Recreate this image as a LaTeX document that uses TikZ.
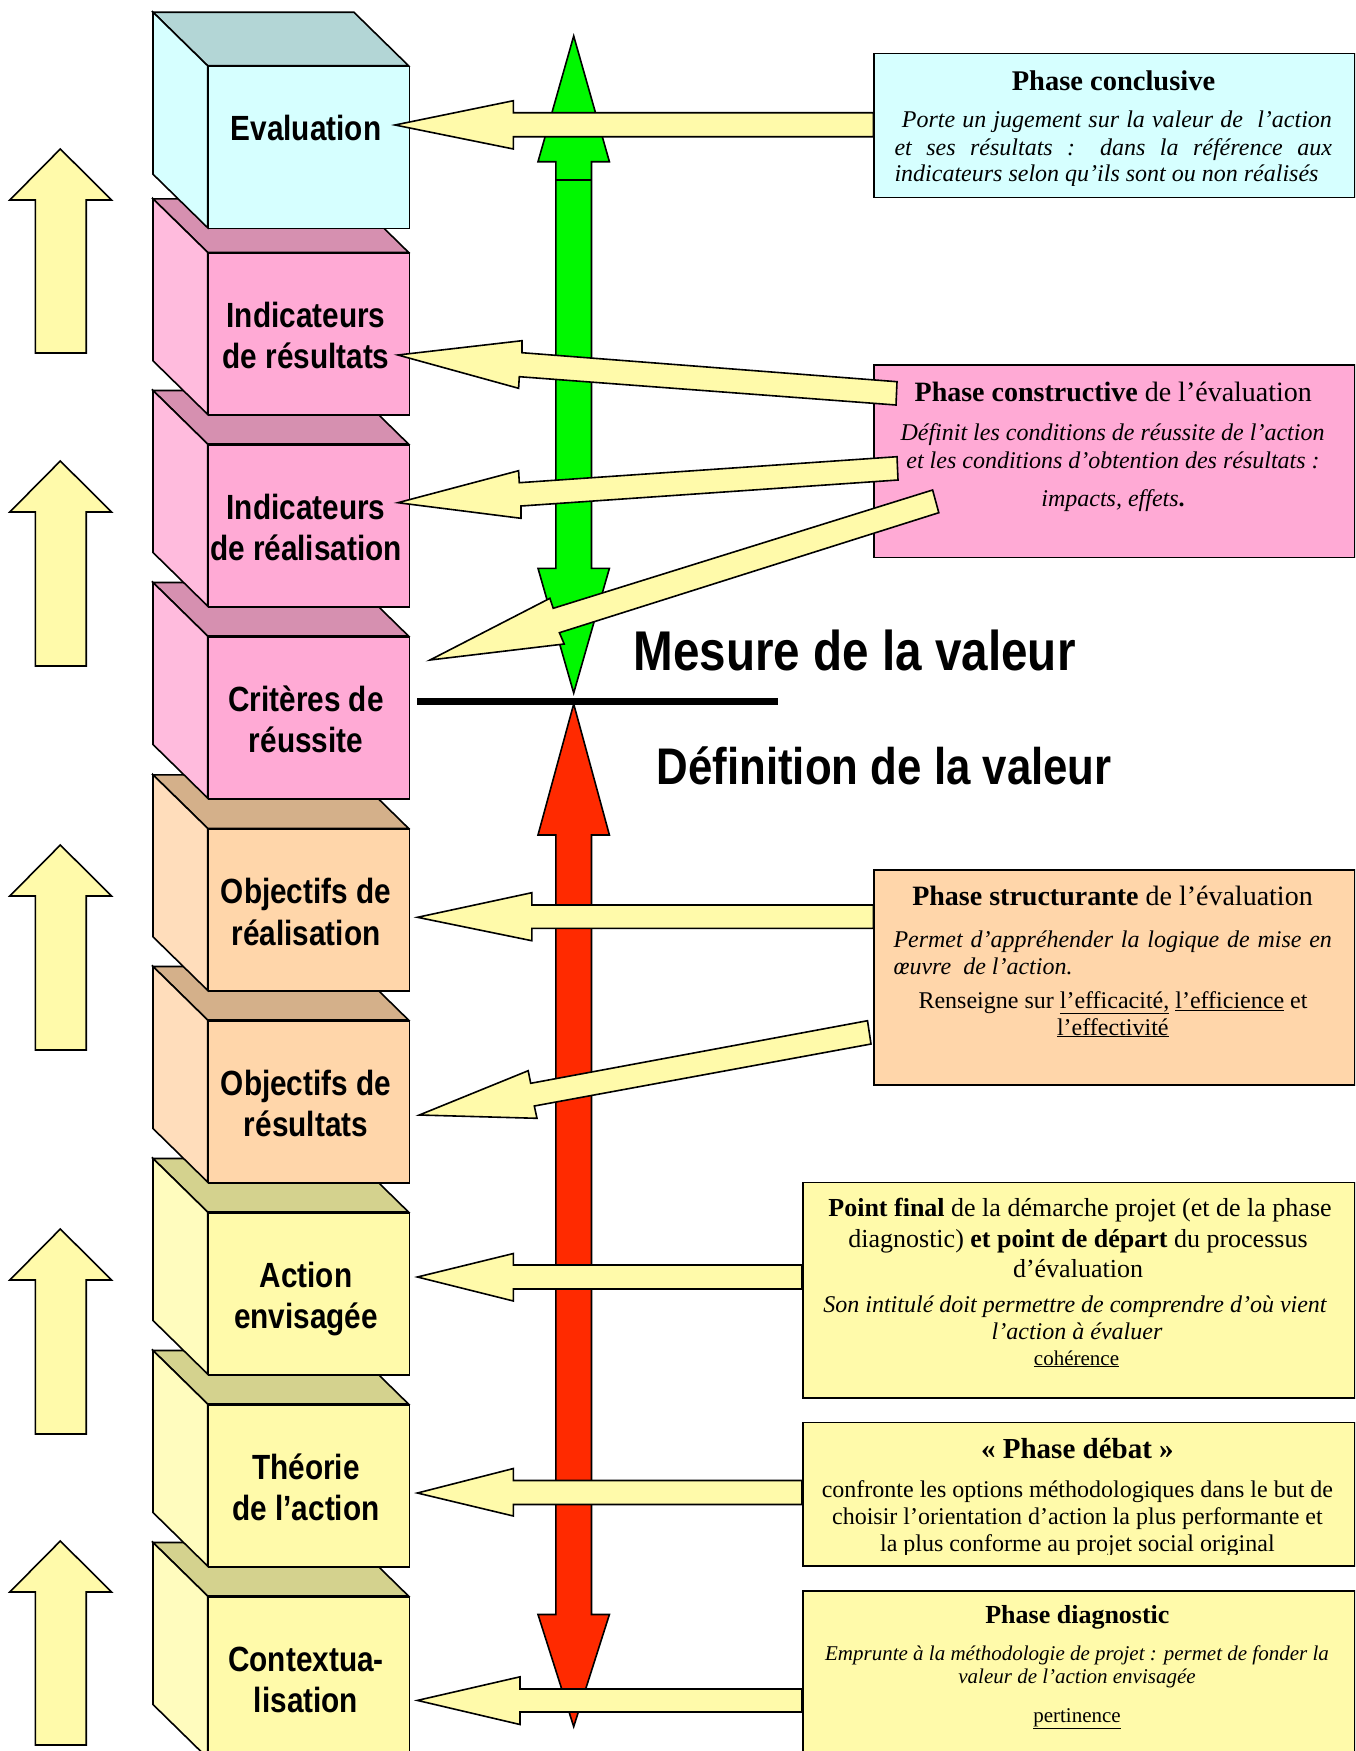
\documentclass[tikz,border=0pt]{standalone}
\usepackage{fontspec}
\setmainfont{Liberation Serif}
\newfontfamily\cubefont[FakeStretch=0.85]{Liberation Sans}
\definecolor{yel}{HTML}{FFFAAA}
\definecolor{yelside}{HTML}{FFFCBE}
\definecolor{yeltop}{HTML}{D4D28E}
\definecolor{pinkfront}{HTML}{FFAAD5}
\definecolor{pinkside}{HTML}{FFBBDD}
\definecolor{pinktop}{HTML}{D690B0}
\definecolor{peachfront}{HTML}{FFD6AA}
\definecolor{peachside}{HTML}{FFDDBB}
\definecolor{peachtop}{HTML}{D4B08A}
\definecolor{cyanfront}{HTML}{D6FFFF}
\definecolor{cyantop}{HTML}{B3D6D6}
\definecolor{greenarrow}{HTML}{00F800}
\definecolor{redarrow}{HTML}{FF2A00}
\newcommand\setfs[1]{\fontsize{#1}{#1}\selectfont}
\newcommand\mkcube[5]{%
  \path[cubeface, fill=#5] (153,#2-53.5) -- (353.9,#2-53.5) -- (408.5,#2) -- (207.6,#2) -- cycle;
  \path[cubeface, fill=#4] (153,#2-53.5) -- (207.6,#2) -- (207.6,#2+162) -- (153,#2+108.5) -- cycle;
  \node[cubeface, fill=#3, anchor=north west, minimum width=200.9pt, minimum height=162pt, inner sep=0pt] (#1) at (207.6,#2) {};
}
\newcommand\uparrowL[2]{%
  \path[yarrow] (60.3,#1) -- (111.6,#1+51) -- (86.2,#1+51) -- (86.2,#2) -- (35.3,#2) -- (35.3,#1+51) -- (9.8,#1+51) -- cycle;}
\newcommand\harrowL[8]{%
  \path[yarrow] (#1,#2) -- (#3,#4) -- (#3,#6) -- (#8,#6) -- (#8,#7) -- (#3,#7) -- (#3,#5) -- cycle;}
\begin{document}
\begin{tikzpicture}[x=1pt,y=-1pt,line join=miter,
  cubeface/.style={draw=black, line width=1.6pt},
  yarrow/.style={draw=black, fill=yel, line width=1.6pt},
  phasebox/.style={draw=black, line width=1.6pt, anchor=north west, inner sep=0pt},
  cubetxt/.style={font=\cubefont\bfseries\setfs{35}, anchor=base, inner sep=0pt},
  bigtxt/.style={font=\cubefont\bfseries, anchor=base west, inner sep=0pt},
  txt/.style={anchor=base, inner sep=0pt},
  txtw/.style={anchor=base west, inner sep=0pt}]
\useasboundingbox (0,0) rectangle (1355,1751);
\clip (0,0) rectangle (1355,1751);

% cubes, drawn from bottom to top
\mkcube{ctx}{1596}{yel}{yelside}{yeltop}
\mkcube{theo}{1404}{yel}{yelside}{yeltop}
\mkcube{act}{1212}{yel}{yelside}{yeltop}
\mkcube{ores}{1020}{peachfront}{peachside}{peachtop}
\mkcube{oreal}{828.3}{peachfront}{peachside}{peachtop}
\mkcube{crit}{636}{pinkfront}{pinkside}{pinktop}
\mkcube{ireal}{444}{pinkfront}{pinkside}{pinktop}
\mkcube{ires}{252.3}{pinkfront}{pinkside}{pinktop}
\mkcube{eval}{65.7}{cyanfront}{cyanfront}{cyantop}

\node[cubetxt] (evalt) at (306,140) {Evaluation};
\node[cubetxt] (irest1) at (306,327) {Indicateurs};
\node[cubetxt] (irest2) at (306,368.5) {de résultats};
\node[cubetxt] (irealt1) at (306,519) {Indicateurs};
\node[cubetxt] (irealt2) at (306,560.5) {de réalisation};
\node[cubetxt] (critt1) at (306,711) {Critères de};
\node[cubetxt] (critt2) at (306,752.5) {réussite};
\node[cubetxt] (orealt1) at (306,903.3) {Objectifs de};
\node[cubetxt] (orealt2) at (306,945) {réalisation};
\node[cubetxt] (orest1) at (306,1095) {Objectifs de};
\node[cubetxt] (orest2) at (306,1136.7) {résultats};
\node[cubetxt] (actt1) at (306,1287) {Action};
\node[cubetxt] (actt2) at (306,1328.5) {envisagée};
\node[cubetxt] (theot1) at (306,1479) {Théorie};
\node[cubetxt] (theot2) at (306,1520.5) {de l’action};
\node[cubetxt] (ctxt1) at (306,1671) {Contextua-};
\node[cubetxt] (ctxt2) at (306,1712.5) {lisation};

% left up arrows
\uparrowL{149}{353}
\uparrowL{461}{666}
\uparrowL{845}{1050}
\uparrowL{1229}{1434}
\uparrowL{1541}{1745}

% green and red vertical arrows
\path[draw=black, fill=greenarrow, line width=1.6pt] (573.7,36) -- (609.4,161.7) -- (591.5,161.7) -- (591.5,568.3) -- (609.4,568.3) -- (573.7,693) -- (538,568.3) -- (555.8,568.3) -- (555.8,161.7) -- (538,161.7) -- cycle;
\draw[line width=1.6pt] (555.8,180) -- (591.5,180);
\path[draw=black, fill=redarrow, line width=1.6pt] (573.7,704) -- (609.4,835) -- (591.5,835) -- (591.5,1614.5) -- (609.4,1614.5) -- (573.7,1726.6) -- (538,1614.5) -- (555.8,1614.5) -- (555.8,835) -- (538,835) -- cycle;
\coordinate (lineL) at (417,701);
\coordinate (lineR) at (778,701);
\draw[line width=7pt] (lineL) -- (lineR);

\node[bigtxt, font=\cubefont\bfseries\setfs{56}] (mesure) at (633.6,670) {Mesure de la valeur};
\node[bigtxt, font=\cubefont\bfseries\setfs{51.5}] (definition) at (656.6,784) {Définition de la valeur};

% right boxes
\node[phasebox, fill=cyanfront, minimum width=480.7pt, minimum height=144pt] (conclusive) at (873.3,52.7) {};
\node[phasebox, fill=pinkfront, minimum width=480.7pt, minimum height=192.7pt] (constructive) at (873.3,364) {};
\node[phasebox, fill=peachfront, minimum width=480.7pt, minimum height=214.7pt] (structurante) at (873.3,869.3) {};
\node[phasebox, fill=yel, minimum width=552pt, minimum height=215.3pt] (pointfinal) at (802,1181.7) {};
\node[phasebox, fill=yel, minimum width=552pt, minimum height=143.3pt] (debat) at (802,1421.7) {};
\node[phasebox, fill=yel, minimum width=552pt, minimum height=250pt] (diagnostic) at (802,1590) {};

% texts of the boxes
\node[txt, font=\setfs{28.5}\bfseries] (conclusive-t) at (1113.5,90) {Phase conclusive};
\node[txtw, font=\setfs{24}\itshape] (conclusive-1) at (901.7,127.3) {\makebox[430pt][s]{Porte un jugement sur la valeur de\ \ l’action}};
\node[txtw, font=\setfs{24}\itshape] (conclusive-2) at (894.3,155) {\makebox[437.4pt][s]{et ses résultats : dans la référence aux}};
\begin{scope}
\clip (880,160) rectangle (1350,185);
\node[txtw, font=\setfs{24}\itshape] (conclusive-3) at (894.3,181.7) {indicateurs selon qu’ils sont ou non réalisés};
\end{scope}

\node[txt, font=\setfs{28}] (constructive-t) at (1113.3,401.7) {\textbf{Phase constructive} de l’évaluation};
\node[txt, font=\setfs{24}\itshape] (constructive-1) at (1112.5,440) {Définit les conditions de réussite de l’action};
\node[txt, font=\setfs{24}\itshape] (constructive-2) at (1113,468.3) {et les conditions d’obtention des résultats :};
\node[txt, font=\setfs{24}\itshape] (constructive-3) at (1113,506.7) {impacts, effets\textup{\textbf{.}}};

\node[txt, font=\setfs{28}] (structurante-t) at (1112.5,905) {\textbf{Phase structurante} de l’évaluation};
\node[txtw, font=\setfs{24}\itshape] (structurante-1) at (893.3,947.3) {\makebox[438.4pt][s]{Permet d’appréhender la logique de mise en}};
\node[txtw, font=\setfs{24}\itshape] (structurante-2) at (893.3,974) {œuvre\ \ de l’action.};
\node[txt, font=\setfs{24}] (structurante-3) at (1113,1008.3) {Renseigne sur \underline{l’efficacité,} \underline{l’efficience} et};
\node[txt, font=\setfs{24}] (structurante-4) at (1112.8,1035) {\underline{l’effectivité}};

\node[txt, font=\setfs{26}] (pointfinal-1) at (1080,1216) {\textbf{Point final} de la démarche projet (et de la phase};
\node[txt, font=\setfs{26}] (pointfinal-2) at (1078,1247) {diagnostic) \textbf{et point de départ} du processus};
\node[txt, font=\setfs{26}] (pointfinal-3) at (1078,1277) {d’évaluation};
\node[txt, font=\setfs{24}\itshape] (pointfinal-4) at (1075,1312) {Son intitulé doit permettre de comprendre d’où vient};
\node[txt, font=\setfs{24}\itshape] (pointfinal-5) at (1077,1339) {l’action à évaluer};
\node[txt, font=\setfs{21}] (pointfinal-6) at (1076.5,1365) {\underline{cohérence}};

\node[txt, font=\setfs{29}\bfseries] (debat-t) at (1077.4,1458.3) {« Phase débat »};
\node[txt, font=\setfs{24}] (debat-1) at (1077.4,1497.3) {confronte les options méthodologiques dans le but de};
\node[txt, font=\setfs{24}] (debat-2) at (1077.4,1524.5) {choisir l’orientation d’action la plus performante et};
\begin{scope}
\clip (810,1530) rectangle (1350,1554);
\node[txt, font=\setfs{24}] (debat-3) at (1077.4,1551.5) {la plus conforme au projet social original};
\end{scope}

\node[txt, font=\setfs{26}\bfseries] (diagnostic-t) at (1077.4,1623.3) {Phase diagnostic};
\node[txt, font=\setfs{21}\itshape] (diagnostic-1) at (1077,1660) {Emprunte à la méthodologie de projet : permet de fonder la};
\node[txt, font=\setfs{21}\itshape] (diagnostic-2) at (1077,1683) {valeur de l’action envisagée};
\node[txt, font=\setfs{21}] (diagnostic-3) at (1077,1722.5) {\underline{pertinence}};

% yellow block arrows from the boxes to the cubes
\harrowL{395}{125}{513.4}{100.7}{149}{112.7}{136.7}{873.3}
\path[yarrow] (397.9,355) -- (522,340.7) -- (522,352.7) -- (897,381.7) -- (896,405) -- (519.3,376.7) -- (518.6,388.3) -- cycle;
\path[yarrow] (397.9,502.7) -- (518.6,470.7) -- (519.3,482.7) -- (897,456.7) -- (898,480) -- (521,506) -- (521,518.3) -- cycle;
\path[yarrow] (430,660) -- (549.9,598.3) -- (553.2,608.3) -- (932.6,490) -- (938.8,512.7) -- (559.4,632.7) -- (564.2,644) -- cycle;
\harrowL{417.5}{917.3}{531.8}{892.7}{940.7}{905}{928.3}{873.3}
\path[yarrow] (419.3,1115) -- (528.2,1070.7) -- (530.7,1083.3) -- (867.5,1020.7) -- (871,1044) -- (534.3,1106) -- (537,1118.3) -- cycle;
\harrowL{417.4}{1277}{513.4}{1253.5}{1301}{1265}{1289}{802}
\harrowL{417.4}{1493}{513.4}{1468.5}{1516}{1480.5}{1504.5}{802}
\harrowL{417.4}{1700.4}{520}{1676.8}{1724.5}{1689}{1712}{802}
\end{tikzpicture}
\end{document}
